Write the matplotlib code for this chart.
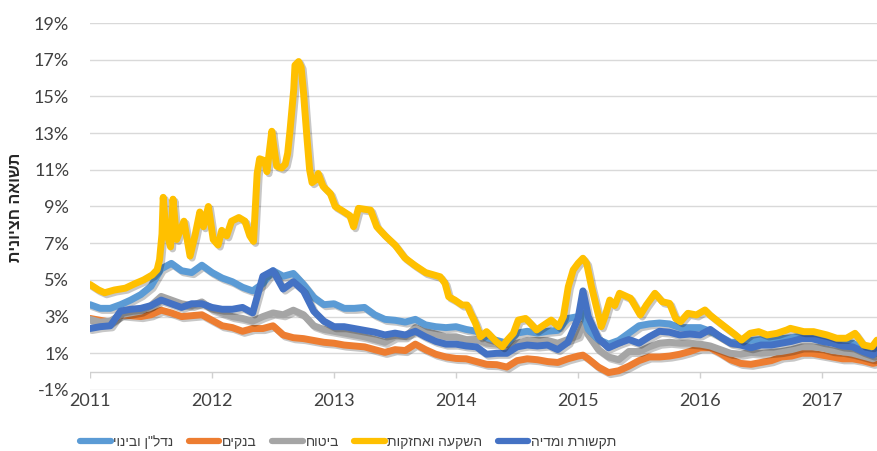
import matplotlib
matplotlib.use("Agg")
import matplotlib.pyplot as plt
import matplotlib.patheffects as pe
from matplotlib.ticker import FuncFormatter

def heb(s):
    # matplotlib has no bidi support, so Hebrew is drawn reversed
    return s[::-1]

# ---- data (median yield, %) ----
years = [2011, 2012, 2013, 2014, 2015, 2016, 2017]

months = [2011 + k / 12 for k in range(78)]
t_sector = months[:49] + [2015.04] + months[49:] + [2017.45]

nadlan = [3.65, 3.45, 3.45, 3.65, 3.9, 4.2, 4.65, 5.6, 5.9, 5.5,
          5.4, 5.8, 5.4, 5.1, 4.9, 4.6, 4.4, 4.8, 5.5, 5.2,
          5.35, 4.75, 4.05, 3.65, 3.7, 3.45, 3.45, 3.5, 3.1, 2.85,
          2.8, 2.7, 2.85, 2.55, 2.45, 2.4, 2.45, 2.3, 2.2, 1.85,
          1.7, 1.55, 2.1, 2.2, 2.1, 2.2, 2.25, 2.9, 3.0, 3.2,
          2.3, 1.75, 1.5, 1.7, 2.1, 2.5, 2.6, 2.65, 2.6, 2.4,
          2.4, 2.4, 2.2, 1.9, 1.6, 1.6, 1.7, 1.75, 1.75, 1.8,
          1.85, 1.95, 1.95, 1.9, 1.8, 1.6, 1.55, 1.3, 1.1, 1.3]

banks = [2.9, 2.8, 2.7, 3.1, 3.05, 3.0, 3.1, 3.35, 3.2, 3.0,
         3.05, 3.1, 2.8, 2.5, 2.4, 2.2, 2.35, 2.35, 2.5, 2.0,
         1.85, 1.8, 1.7, 1.6, 1.55, 1.45, 1.4, 1.35, 1.2, 1.05,
         1.2, 1.15, 1.5, 1.2, 0.95, 0.8, 0.72, 0.7, 0.55, 0.4,
         0.38, 0.25, 0.6, 0.7, 0.65, 0.55, 0.5, 0.7, 0.85, 0.9,
         0.7, 0.25, -0.05, 0.05, 0.3, 0.6, 0.8, 0.8, 0.85, 0.95,
         1.1, 1.3, 1.3, 1.0, 0.65, 0.45, 0.4, 0.5, 0.6, 0.8,
         0.85, 1.0, 1.0, 0.9, 0.8, 0.7, 0.7, 0.6, 0.45, 0.5]

insurance = [2.85, 2.7, 2.75, 3.1, 3.2, 3.3, 3.6, 4.1, 3.9, 3.7,
             3.6, 3.8, 3.4, 3.2, 3.0, 2.9, 2.75, 3.0, 3.2, 3.1,
             3.35, 3.1, 2.5, 2.3, 2.2, 2.1, 2.0, 1.9, 1.75, 1.6,
             1.9, 1.9, 2.4, 2.2, 2.05, 1.9, 1.9, 1.75, 1.75, 1.55,
             1.5, 1.3, 1.55, 1.7, 1.7, 1.7, 1.55, 1.75, 1.95, 2.6,
             2.0, 1.2, 0.8, 0.65, 1.1, 1.1, 1.35, 1.55, 1.6, 1.55,
             1.55, 1.5, 1.4, 1.2, 1.0, 0.95, 1.05, 1.0, 1.05, 1.1,
             1.2, 1.35, 1.35, 1.3, 1.15, 1.1, 1.0, 0.85, 0.7, 0.8]

media = [2.35, 2.45, 2.5, 3.3, 3.4, 3.45, 3.6, 3.9, 3.7, 3.5,
         3.7, 3.7, 3.5, 3.4, 3.4, 3.5, 3.2, 5.2, 5.5, 4.5,
         4.9, 4.4, 3.3, 2.75, 2.45, 2.45, 2.35, 2.25, 2.15, 2.0,
         2.1, 2.0, 2.2, 1.9, 1.65, 1.5, 1.5, 1.4, 1.35, 0.95,
         1.0, 1.0, 1.35, 1.45, 1.4, 1.45, 1.2, 1.6, 2.9, 4.4,
         3.0, 1.8, 1.3, 1.55, 1.75, 1.55, 1.9, 2.2, 2.15, 2.0,
         2.05, 2.0, 2.3, 1.9, 1.55, 1.45, 1.3, 1.45, 1.45, 1.55,
         1.65, 1.8, 1.8, 1.65, 1.55, 1.4, 1.35, 1.1, 0.9, 1.2]

# investment & holdings needs a finer date grid for its spikes
t_inv = [2011.00, 2011.07, 2011.12, 2011.20, 2011.29, 2011.37, 2011.44, 2011.51, 2011.55, 2011.57,
         2011.59, 2011.60, 2011.62, 2011.66, 2011.68, 2011.71, 2011.77, 2011.82, 2011.86, 2011.90,
         2011.93, 2011.97, 2012.01, 2012.05, 2012.08, 2012.12, 2012.16, 2012.22, 2012.27, 2012.31,
         2012.34, 2012.35, 2012.37, 2012.39, 2012.43, 2012.45, 2012.49, 2012.51, 2012.53, 2012.57,
         2012.60, 2012.62, 2012.64, 2012.67, 2012.68, 2012.71, 2012.73, 2012.75, 2012.76, 2012.78,
         2012.80, 2012.82, 2012.86, 2012.87, 2012.91, 2012.97, 2013.01, 2013.06, 2013.13, 2013.16,
         2013.20, 2013.30, 2013.35, 2013.42, 2013.50, 2013.58, 2013.66, 2013.75, 2013.87, 2013.91,
         2013.94, 2013.99, 2014.05, 2014.09, 2014.12, 2014.16, 2014.20, 2014.25, 2014.29, 2014.33,
         2014.38, 2014.42, 2014.47, 2014.51, 2014.57, 2014.61, 2014.66, 2014.72, 2014.78, 2014.84,
         2014.88, 2014.92, 2014.96, 2015.00, 2015.04, 2015.07, 2015.11, 2015.15, 2015.19, 2015.22,
         2015.26, 2015.30, 2015.34, 2015.43, 2015.51, 2015.56, 2015.63, 2015.69, 2015.75, 2015.80,
         2015.84, 2015.90, 2015.97, 2016.04, 2016.08, 2016.15, 2016.22, 2016.29, 2016.34, 2016.41,
         2016.48, 2016.55, 2016.63, 2016.71, 2016.74, 2016.85, 2016.93, 2017.04, 2017.12, 2017.20,
         2017.27, 2017.34, 2017.41, 2017.45]
investment = [4.75, 4.45, 4.30, 4.45, 4.55, 4.80, 5.00, 5.27, 5.55, 6.10,
              7.5, 9.5, 7.8, 6.8, 9.4, 7.2, 8.2, 6.3, 7.4, 8.7,
              7.9, 9.0, 7.2, 6.9, 7.7, 7.4, 8.2, 8.4, 8.2, 7.4,
              7.1, 8.3, 10.8, 11.6, 11.5, 10.9, 13.1, 12.1, 11.2, 11.1,
              11.3, 11.9, 13.2, 15.4, 16.7, 16.9, 16.6, 15.2, 14.3, 12.6,
              11.0, 10.3, 10.5, 10.8, 10.1, 9.7, 9.0, 8.8, 8.5, 7.9,
              8.9, 8.8, 7.9, 7.4, 6.9, 6.2, 5.8, 5.4, 5.17, 4.81,
              4.08, 3.9, 3.63, 3.63, 3.18, 2.63, 1.9, 2.18, 1.9, 1.63,
              1.36, 1.72, 2.09, 2.81, 2.9, 2.63, 2.27, 2.54, 2.81, 2.45,
              3.0, 4.63, 5.54, 5.9, 6.18, 5.9, 4.63, 3.54, 2.45, 3.0,
              3.9, 3.6, 4.27, 4.0, 3.09, 3.63, 4.27, 3.81, 3.72, 2.9,
              2.72, 3.18, 3.09, 3.36, 3.09, 2.72, 2.36, 2.0, 1.72, 2.09,
              2.18, 2.0, 2.09, 2.27, 2.36, 2.18, 2.18, 2.0, 1.82, 1.82,
              2.09, 1.45, 1.36, 1.72]

labels = ['נדל"ן ובינוי', 'בנקים', 'ביטוח', 'השקעה ואחזקות', 'תקשורת ומדיה']
colors = ['#5B9BD5', '#ED7D31', '#A5A5A5', '#FFC000', '#4472C4']

# ---- figure ----
num_font = ['Lato', 'DejaVu Sans']
heb_font = ['Liberation Sans', 'DejaVu Sans']

fig = plt.figure(figsize=(8.77, 4.51), dpi=100, facecolor='w')
ax = fig.add_axes((90 / 877, 1 - 390 / 451, 1 - 90 / 877, (390 - 23) / 451))

shadow = [pe.SimpleLineShadow(offset=(1.5, -1.5), shadow_color='k', alpha=0.22), pe.Normal()]
lw = 5
series = [(t_sector, nadlan), (t_sector, banks), (t_sector, insurance), (t_inv, investment), (t_sector, media)]
zorders = [3, 1, 2, 5, 4]
for (tx, vals), lab, col, z in zip(series, labels, colors, zorders):
    ax.plot(tx, vals, color=col, lw=lw, solid_joinstyle='round', solid_capstyle='round',
            path_effects=shadow, zorder=z)

ax.set_xlim(2011, 2017.45)
ax.set_ylim(-1, 19)
ax.set_yticks(range(-1, 20, 2))
ax.yaxis.set_major_formatter(FuncFormatter(lambda v, p: '%d%%' % v))
ax.grid(axis='y', color='#d9d9d9', lw=1)
ax.set_axisbelow(True)
for s in ax.spines.values():
    s.set_visible(False)

# horizontal axis crosses at 0 with small downward ticks, labels stay at the bottom
ax.axhline(0, color='#d0d0d0', lw=1, zorder=0.5)
ax.vlines(years, -0.35, 0, color='#d0d0d0', lw=1, zorder=0.5)
ax.set_xticks(years)
ax.set_xticklabels([str(y) for y in years], family=num_font, fontsize=13, color='#404040')
ax.tick_params(axis='x', length=0, pad=2)
ax.tick_params(axis='y', length=0, pad=15, labelsize=13, labelcolor='#404040')
for t in ax.get_yticklabels():
    t.set_family(num_font)

fig.text(0.018, 1 - 207 / 451, heb('תשואה חציונית'), rotation=90, ha='center', va='center',
         family=heb_font, fontsize=11.5, weight='bold', color='#262626')

leg = fig.legend(handles=[plt.Line2D([], [], color=c, lw=4.5, solid_capstyle='round') for c in colors],
                 labels=[heb(l) for l in labels], ncol=5, loc='center left',
                 bbox_to_anchor=(73 / 877, 1 - 442 / 451), frameon=False,
                 prop={'family': heb_font, 'size': 10}, handlelength=2.2,
                 handletextpad=0.2, columnspacing=1.1, borderpad=0)
for t in leg.get_texts():
    t.set_color('#404040')

fig.savefig('out.png', dpi=100)
